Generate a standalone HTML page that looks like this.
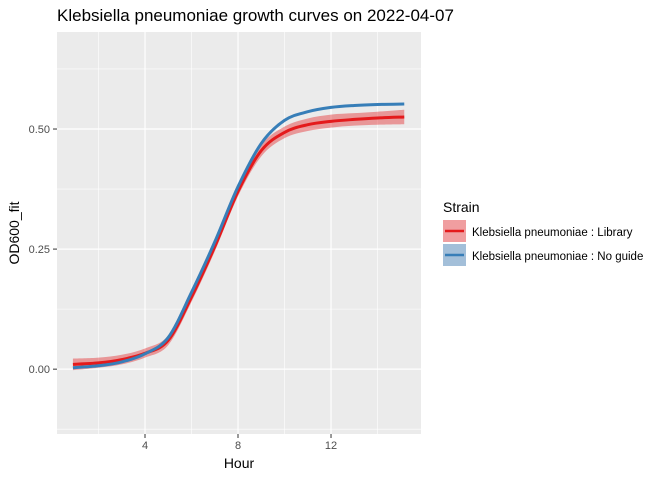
<!DOCTYPE html>
<html><head><meta charset="utf-8"><style>
body{margin:0;background:#fff;font-family:"Liberation Sans",sans-serif}
svg text{font-family:"Liberation Sans",sans-serif}
</style></head><body>
<svg id="c" width="672" height="480" xmlns="http://www.w3.org/2000/svg">
<text x="57" y="21" font-size="17" fill="#000">Klebsiella pneumoniae growth curves on 2022-04-07</text>
<rect x="57" y="32" width="364" height="402" fill="#ebebeb"/>
<g id="grid"></g><g id="series"></g><g id="axes"></g>
<text x="239" y="468" font-size="14" text-anchor="middle">Hour</text>
<text transform="translate(19,233) rotate(-90)" font-size="14" text-anchor="middle">OD600_fit</text>
<g>
<text x="443" y="212" font-size="14">Strain</text>
<g>
<rect x="443" y="220" width="23" height="22" fill="#f09ea0"/><line x1="445" x2="464" y1="231" y2="231" stroke="#e41a1c" stroke-width="2.5"/>
<text x="472" y="236" font-size="11.5">Klebsiella pneumoniae : Library</text></g>
<g>
<rect x="443" y="244" width="23" height="22" fill="#a3bfd9"/><line x1="445" x2="464" y1="255" y2="255" stroke="#377eb8" stroke-width="2.5"/>
<text x="472" y="260" font-size="11.5">Klebsiella pneumoniae : No guide</text></g>
</g>
</svg>
<script>
const hours=[0.9,2,3,4,5,6,7,8,9,10,11,12,13,14,15.15];
const library=[0.010,0.013,0.020,0.033,0.060,0.150,0.255,0.370,0.455,0.493,0.509,0.516,0.520,0.523,0.525];
const libraryLo=[-0.002,0.003,0.010,0.024,0.050,0.140,0.245,0.360,0.443,0.481,0.496,0.503,0.507,0.509,0.510];
const libraryHi=[0.022,0.024,0.030,0.043,0.070,0.160,0.265,0.380,0.467,0.505,0.522,0.530,0.533,0.536,0.540];
const noGuide=[0.003,0.007,0.015,0.032,0.066,0.160,0.265,0.380,0.470,0.518,0.536,0.545,0.549,0.551,0.552];
const xTicks=[4,8,12];
const yTicks=[0,0.25,0.5];
const yTickLabels=["0.00","0.25","0.50"];
const X0=57,X1=421,Y0=32,Y1=434,xmin=0.215,xmax=15.87,ymin=-0.135,ymax=0.702;
const xs=v=>X0+(v-xmin)/(xmax-xmin)*(X1-X0);
const ys=v=>Y1-(v-ymin)/(ymax-ymin)*(Y1-Y0);
const NS="http://www.w3.org/2000/svg";
function mk(tag,attrs,parent){const e=document.createElementNS(NS,tag);for(const k in attrs)e.setAttribute(k,attrs[k]);parent.appendChild(e);return e;}
const grid=document.getElementById('grid'),axes=document.getElementById('axes'),ser=document.getElementById('series');
for(let i=0;i<xTicks.length;i++){
 const v=xTicks[i];
 const m=mk('line',{x1:xs(v-2),x2:xs(v-2),y1:Y0,y2:Y1,stroke:'#fff','stroke-width':0.6},grid);
 
 
 const g=mk('line',{x1:xs(v),x2:xs(v),y1:Y0,y2:Y1,stroke:'#fff','stroke-width':1.2},grid);
 
 
 const t=mk('line',{x1:xs(v),x2:xs(v),y1:Y1,y2:Y1+4,stroke:'#333'},axes);
 
 
 const l=mk('text',{x:xs(v),y:Y1+15,'font-size':11,'text-anchor':'middle',fill:'#4d4d4d'},axes);
 l.textContent=v;
 
 
}
{const v=xTicks[xTicks.length-1]+2;const m=mk('line',{x1:xs(v),x2:xs(v),y1:Y0,y2:Y1,stroke:'#fff','stroke-width':0.6},grid);

}
for(let i=0;i<yTicks.length;i++){
 const v=yTicks[i];
 const m=mk('line',{x1:X0,x2:X1,y1:ys(v-0.125),y2:ys(v-0.125),stroke:'#fff','stroke-width':0.6},grid);
 
 
 const g=mk('line',{x1:X0,x2:X1,y1:ys(v),y2:ys(v),stroke:'#fff','stroke-width':1.2},grid);
 
 
 const t=mk('line',{x1:X0-4,x2:X0,y1:ys(v),y2:ys(v),stroke:'#333'},axes);
 
 
 const l=mk('text',{x:X0-7,y:ys(v)+4,'font-size':11,'text-anchor':'end',fill:'#4d4d4d'},axes);
 l.textContent=yTickLabels[i];
 
 
}
{const v=0.625;const m=mk('line',{x1:X0,x2:X1,y1:ys(v),y2:ys(v),stroke:'#fff','stroke-width':0.6},grid);

}
function pts(arr){return hours.map((h,i)=>[xs(h),ys(arr[i])]);}
function smooth(p,start){let d=start?`M${p[0][0]},${p[0][1]}`:`L${p[0][0]},${p[0][1]}`;
 for(let i=0;i<p.length-1;i++){const a=p[Math.max(0,i-1)],b=p[i],c=p[i+1],e=p[Math.min(p.length-1,i+2)];
 d+=`C${b[0]+(c[0]-a[0])/6},${b[1]+(c[1]-a[1])/6} ${c[0]-(e[0]-b[0])/6},${c[1]-(e[1]-b[1])/6} ${c[0]},${c[1]}`;}return d;}
const rib=mk('path',{d:smooth(pts(libraryHi),true)+smooth(pts(libraryLo).reverse(),false)+'Z',fill:'#e41a1c','fill-opacity':0.4},ser);


const rl=mk('path',{d:smooth(pts(library),true),fill:'none',stroke:'#e41a1c','stroke-width':3},ser);


const bl=mk('path',{d:smooth(pts(noGuide),true),fill:'none',stroke:'#377eb8','stroke-width':3},ser);


</script>
</body></html>
